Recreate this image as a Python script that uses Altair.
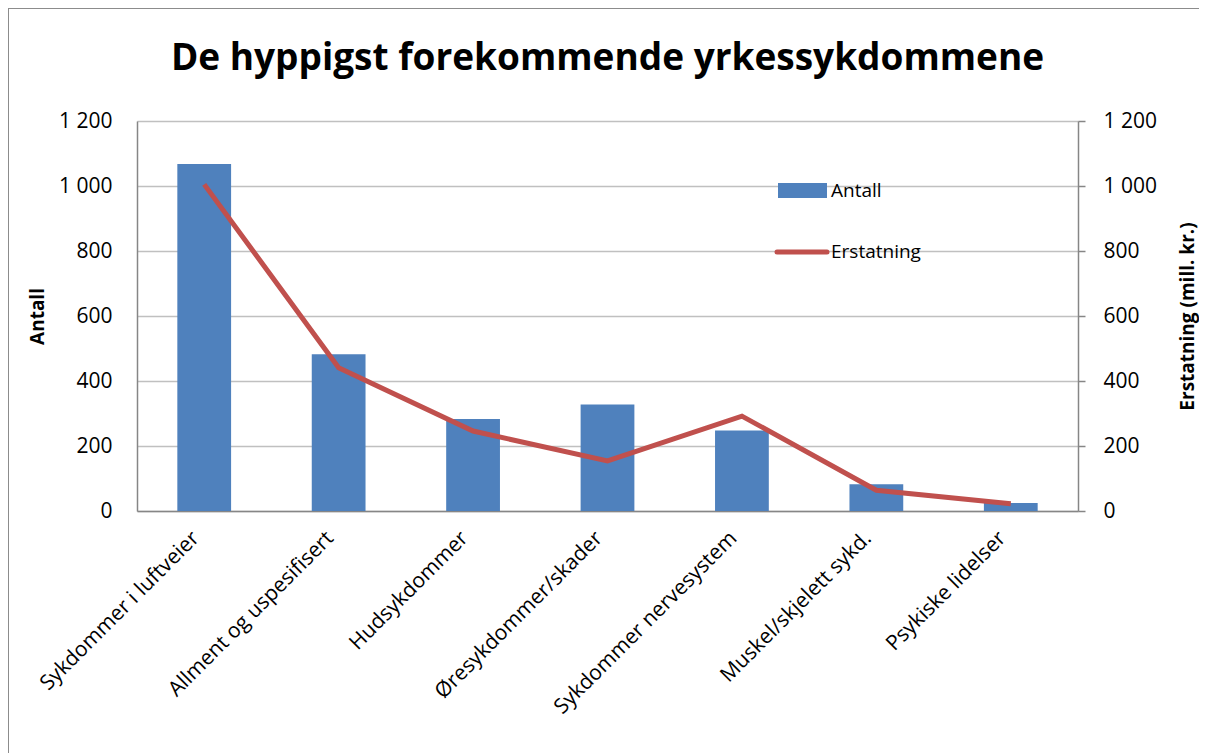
import altair as alt
import pandas as pd

categories = [
    "Sykdommer i luftveier",
    "Allment og uspesifisert",
    "Hudsykdommer",
    "Øresykdommer/skader",
    "Sykdommer nervesystem",
    "Muskel/skjelett sykd.",
    "Psykiske lidelser",
]
antall = [1068, 482, 283, 328, 248, 82, 25]
erstatning = [1005, 441, 246, 154, 292, 64, 22]

df = pd.DataFrame({"kategori": categories, "Antall": antall, "Erstatning": erstatning})

FONT = "Open Sans"
BLUE = "#4F81BD"
RED = "#C0504D"
GRID = "#C0C0C0"
AXIS = "#868686"
W, H = 941, 390
PL, PT = 129, 113

num_fmt = "replace(format(datum.value, ','), ',', ' ')"

x_enc = alt.X(
    "kategori:N",
    sort=categories,
    scale=alt.Scale(paddingInner=0.6, paddingOuter=0.3),
    axis=alt.Axis(
        title=None,
        labelAngle=-45,
        labelFontSize=21,
        labelFont=FONT,
        labelColor="black",
        ticks=False,
        labelPadding=16,
        labelOffset=-16,
        domainColor=AXIS,
        domainWidth=1.5,
        labelLimit=400,
    ),
)

base = alt.Chart(df)

bars = base.mark_bar(color=BLUE).encode(
    x=x_enc,
    y=alt.Y(
        "Antall:Q",
        scale=alt.Scale(domain=[0, 1200]),
        axis=alt.Axis(
            title="Antall",
            values=[0, 200, 400, 600, 800, 1000, 1200],
            labelExpr=num_fmt,
            labelFontSize=21,
            labelFont=FONT,
            labelColor="black",
            ticks=False,
            labelPadding=25,
            grid=True,
            gridColor=GRID,
            gridWidth=1.5,
            domainColor=AXIS,
            domainWidth=1.5,
            titleFontSize=19,
            titleFont=FONT,
            titleFontWeight="bold",
            titleColor="black",
            titleX=-100,
            titleY=195,
            titleAngle=-90,
            titleAlign="center",
            titleBaseline="middle",
        ),
    ),
)

line = base.mark_line(color=RED, strokeWidth=5).encode(
    x=alt.X("kategori:N", sort=categories),
    y=alt.Y(
        "Erstatning:Q",
        scale=alt.Scale(domain=[0, 1200]),
        axis=alt.Axis(
            title="Erstatning (mill. kr.)",
            orient="right",
            values=[0, 200, 400, 600, 800, 1000, 1200],
            labelExpr=num_fmt,
            labelFontSize=21,
            labelFont=FONT,
            labelColor="black",
            ticks=True,
            tickSize=7,
            tickColor=AXIS,
            tickWidth=1.5,
            labelPadding=18,
            grid=False,
            domainColor=AXIS,
            domainWidth=1.5,
            titleFontSize=19,
            titleFont=FONT,
            titleFontWeight="bold",
            titleColor="black",
            titleX=109,
            titleY=195,
            titleAngle=-90,
            titleAlign="center",
            titleBaseline="middle",
        ),
    ),
)

legend_bar_df = pd.DataFrame({"label": ["Antall"]})
legend_line_df = pd.DataFrame({"label": ["Erstatning"]})

leg_rect = alt.Chart(legend_bar_df).mark_rect(color=BLUE).encode(
    x=alt.value(641), x2=alt.value(690), y=alt.value(62), y2=alt.value(77)
)
leg_rect_txt = alt.Chart(legend_bar_df).mark_text(
    align="left", baseline="middle", fontSize=19, font=FONT, color="black"
).encode(x=alt.value(694), y=alt.value(70), text="label:N")

leg_line = alt.Chart(legend_line_df).mark_rule(color=RED, strokeWidth=5, strokeCap="round").encode(
    x=alt.value(640), x2=alt.value(690), y=alt.value(131)
)
leg_line_txt = alt.Chart(legend_line_df).mark_text(
    align="left", baseline="middle", fontSize=19, font=FONT, color="black"
).encode(x=alt.value(694), y=alt.value(131), text="label:N")

frame = alt.Chart(legend_bar_df).mark_rect(
    fill=None, stroke="#8C8C8C", strokeWidth=2
).encode(
    x=alt.value(-PL), x2=alt.value(W + 300), y=alt.value(-PT), y2=alt.value(H + 400)
)

chart = (
    alt.layer(frame, bars, line, leg_rect, leg_rect_txt, leg_line, leg_line_txt)
    .resolve_scale(y="independent")
    .properties(
        width=W,
        height=H,
        title=alt.TitleParams(
            "De hyppigst forekommende yrkessykdommene",
            fontSize=37,
            font=FONT,
            fontWeight="bold",
            color="black",
            anchor="middle",
            frame="group",
            baseline="alphabetic",
            offset=0,
            dy=100,
        ),
        autosize=alt.AutoSizeParams(type="none"),
        padding={"left": PL, "top": PT, "right": 1199 - 8 - PL - W, "bottom": 745 - PT - H},
    )
    .configure_view(stroke=None)
)

chart.save("out.html", embed_options={"renderer": "svg", "actions": False})
